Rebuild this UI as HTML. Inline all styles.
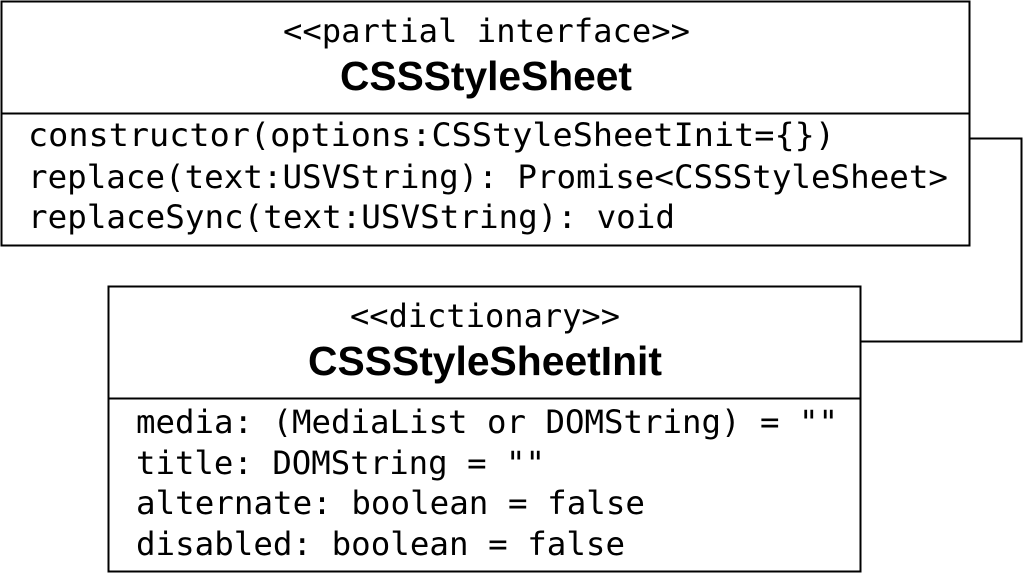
<!DOCTYPE html>
<html><head><style>html,body{margin:0;padding:0;background:#fff;}svg{display:block}</style></head>
<body>
<svg width="1024" height="574" xmlns="http://www.w3.org/2000/svg">
<g fill="none" stroke="#000" stroke-width="2">
<rect x="1.5" y="1.5" width="968" height="244"/>
<line x1="1.5" y1="113.5" x2="969.5" y2="113.5"/>
<rect x="108.5" y="286.5" width="752" height="285"/>
<line x1="108.5" y1="398.5" x2="860.5" y2="398.5"/>
<polyline points="969.5,138.5 1021.5,138.5 1021.5,341.5 860.5,341.5"/>
</g>
<g font-family="'DejaVu Sans Mono', monospace" font-size="32" fill="#000">
<text x="283" y="42" textLength="407" lengthAdjust="spacingAndGlyphs">&lt;&lt;partial interface&gt;&gt;</text>
<text x="28" y="146" textLength="807" lengthAdjust="spacingAndGlyphs">constructor(options:CSStyleSheetInit={})</text>
<text x="28" y="188" textLength="920" lengthAdjust="spacingAndGlyphs">replace(text:USVString): Promise&lt;CSSStyleSheet&gt;</text>
<text x="28" y="228" textLength="647" lengthAdjust="spacingAndGlyphs">replaceSync(text:USVString): void</text>
<text x="350" y="327" textLength="270" lengthAdjust="spacingAndGlyphs">&lt;&lt;dictionary&gt;&gt;</text>
<text x="136" y="433" textLength="702" lengthAdjust="spacingAndGlyphs">media: (MediaList or DOMString) = ""</text>
<text x="136" y="474" textLength="409" lengthAdjust="spacingAndGlyphs">title: DOMString = ""</text>
<text x="136" y="514" textLength="509" lengthAdjust="spacingAndGlyphs">alternate: boolean = false</text>
<text x="136" y="555" textLength="489" lengthAdjust="spacingAndGlyphs">disabled: boolean = false</text>
</g>
<g font-family="'Liberation Sans', Arial, sans-serif" font-weight="bold" font-size="41" fill="#000">
<text x="340" y="90" textLength="292" lengthAdjust="spacingAndGlyphs">CSSStyleSheet</text>
<text x="308" y="375" textLength="354" lengthAdjust="spacingAndGlyphs">CSSStyleSheetInit</text>
</g>
</svg>
</body></html>
